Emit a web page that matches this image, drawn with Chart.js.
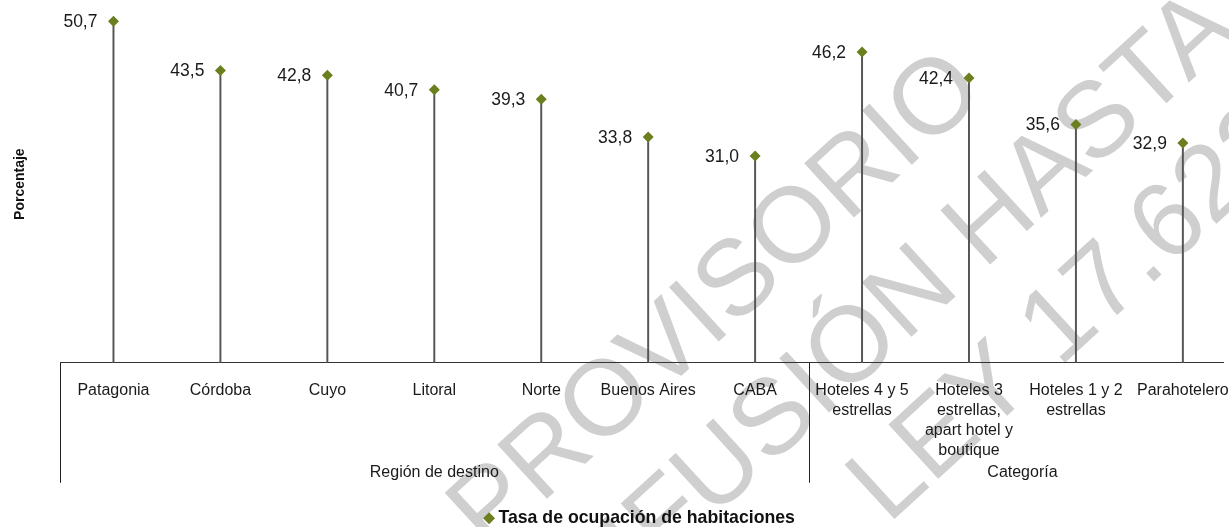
<!DOCTYPE html>
<html lang="es">
<head>
<meta charset="utf-8">
<title>Tasa de ocupación de habitaciones</title>
<script src="https://cdn.jsdelivr.net/npm/chart.js@4.4.1/dist/chart.umd.min.js"></script>
<style>
  html, body { margin: 0; padding: 0; background: #fff; }
  #wrap { width: 1229px; height: 527px; }
</style>
</head>
<body>
<div id="wrap"><canvas id="chart" width="1229" height="527"></canvas></div>
<script>
const categories = [
  "Patagonia", "Córdoba", "Cuyo", "Litoral", "Norte", "Buenos Aires", "CABA",
  ["Hoteles 4 y 5", "estrellas"],
  ["Hoteles 3", "estrellas,", "apart hotel y", "boutique"],
  ["Hoteles 1 y 2", "estrellas"],
  "Parahotelero"
];
const values = [50.7, 43.5, 42.8, 40.7, 39.3, 33.8, 31.0, 46.2, 42.4, 35.6, 32.9];
const groupNames = ["Región de destino", "Categoría"];
const groupSizes = [7, 4];
const seriesName = "Tasa de ocupación de habitaciones";
const watermark = ["PROVISORIO", "DIFUSIÓN HASTA", "LEY 17.622"];

const FONT = "'Liberation Sans', Arial, Helvetica, sans-serif";
const OLIVE = "#6b7f1e";

// points on a numeric x axis so the last category can run past the canvas edge
const points = values.map((v, i) => ({ x: i, y: v }));

// light grey stamp behind everything
const watermarkPlugin = {
  id: "watermark",
  beforeDraw(chart) {
    const ctx = chart.ctx;
    const starts = [[488, 553], [585, 636], [888, 525]];
    ctx.save();
    ctx.fillStyle = "#cfcfcf";
    ctx.font = "107px " + FONT;
    ctx.textAlign = "left";
    ctx.textBaseline = "alphabetic";
    watermark.forEach((txt, i) => {
      ctx.save();
      ctx.translate(starts[i][0], starts[i][1]);
      ctx.rotate(-42.5 * Math.PI / 180);
      ctx.fillText(txt, 0, 0);
      ctx.restore();
    });
    ctx.restore();
  }
};

// value labels left of each diamond
const valueLabels = {
  id: "valueLabels",
  afterDatasetsDraw(chart) {
    const ctx = chart.ctx;
    const meta = chart.getDatasetMeta(1);
    ctx.save();
    ctx.font = "17.5px " + FONT;
    ctx.fillStyle = "#1a1a1a";
    ctx.textAlign = "right";
    ctx.textBaseline = "middle";
    meta.data.forEach((pt, i) => {
      ctx.fillText(values[i].toFixed(1).replace(".", ","), pt.x - 16, pt.y + 1);
    });
    ctx.restore();
  }
};

// group captions and separators under the x axis
const groupAxis = {
  id: "groupAxis",
  afterDraw(chart) {
    const ctx = chart.ctx;
    const x = chart.scales.x;
    const top = chart.chartArea.bottom;
    ctx.save();
    ctx.strokeStyle = "#222";
    ctx.lineWidth = 1;
    ctx.fillStyle = "#1a1a1a";
    ctx.font = "16px " + FONT;
    ctx.textAlign = "center";
    ctx.textBaseline = "middle";
    let idx = 0;
    groupNames.forEach((name, g) => {
      const left = x.getPixelForValue(idx - 0.5);
      const right = x.getPixelForValue(idx + groupSizes[g] - 0.5);
      ctx.beginPath();
      ctx.moveTo(Math.round(left) + 0.5, top);
      ctx.lineTo(Math.round(left) + 0.5, top + 120);
      ctx.stroke();
      ctx.fillText(name, (left + right) / 2, top + 110);
      idx += groupSizes[g];
    });
    ctx.restore();
  }
};

new Chart(document.getElementById("chart"), {
  data: {
    datasets: [
      {
        type: "bar",
        label: "stem",
        data: points,
        backgroundColor: "#555",
        barThickness: 1.3,
        order: 1
      },
      {
        type: "line",
        label: seriesName,
        data: points,
        showLine: false,
        pointStyle: "rectRot",
        pointRadius: 5.5,
        pointHoverRadius: 5.5,
        pointBackgroundColor: OLIVE,
        pointBorderColor: OLIVE,
        pointBorderWidth: 0,
        backgroundColor: OLIVE,
        borderColor: OLIVE,
        order: 0
      }
    ]
  },
  options: {
    responsive: false,
    animation: false,
    devicePixelRatio: 1,
    layout: { padding: { top: 5, right: 0, bottom: -10, left: 0 } },
    scales: {
      x: {
        type: "linear",
        offset: false,
        min: -0.5,
        max: 10.38,
        grid: { display: false, offset: false },
        border: { display: true, color: "#333", width: 1 },
        afterBuildTicks(scale) {
          scale.ticks = categories.map((c, i) => ({ value: i }));
        },
        ticks: {
          autoSkip: false,
          maxRotation: 0,
          padding: 10,
          color: "#1a1a1a",
          font: { family: FONT, size: 16, lineHeight: 1.25 },
          callback: value => categories[value]
        },
        afterFit(scale) {
          scale.height = 136.5;
          scale.paddingLeft = 0;
          scale.paddingRight = 0;
        }
      },
      y: {
        min: 0.8,
        max: 53,
        grid: { display: false },
        border: { display: false },
        ticks: { display: false },
        title: {
          display: true,
          text: "Porcentaje",
          color: "#111",
          padding: 12,
          font: { family: FONT, size: 14, weight: "bold" }
        },
        afterFit(scale) { scale.width = 60; }
      }
    },
    plugins: {
      tooltip: { enabled: false },
      legend: {
        position: "bottom",
        fullSize: false,
        labels: {
          usePointStyle: true,
          boxWidth: 1,
          boxHeight: 8.5,
          color: "#111",
          font: { family: FONT, size: 17.7, weight: "bold" },
          filter: item => item.datasetIndex === 1
        }
      }
    }
  },
  plugins: [watermarkPlugin, valueLabels, groupAxis]
});
</script>
</body>
</html>
